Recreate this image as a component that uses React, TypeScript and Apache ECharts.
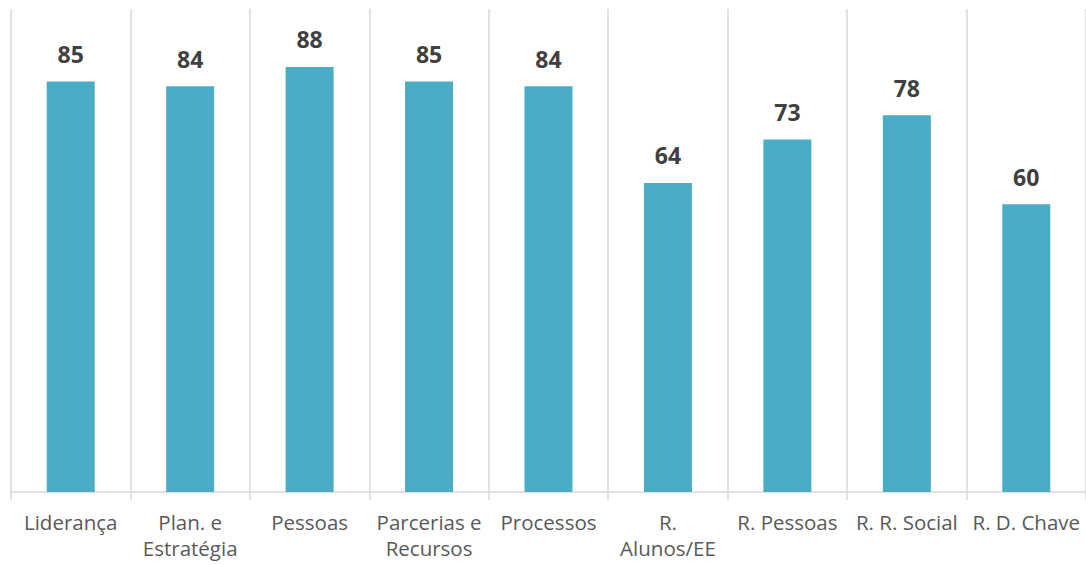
import React, { useEffect, useRef } from "react";
import * as echarts from "echarts";

const categories = [
  "Liderança",
  "Plan. e\nEstratégia",
  "Pessoas",
  "Parcerias e\nRecursos",
  "Processos",
  "R.\nAlunos/EE",
  "R. Pessoas",
  "R. R. Social",
  "R. D. Chave",
];
const values = [85, 84, 88, 85, 84, 64, 73, 78, 59.6];

export default function App() {
  const ref = useRef<HTMLDivElement>(null);
  useEffect(() => {
    if (!ref.current) return;
    const chart = echarts.init(ref.current, null, { renderer: "svg" });
    chart.setOption({
      animation: false,
      backgroundColor: "#ffffff",
      grid: { left: 11, right: 0, top: 9, bottom: 73, containLabel: false },
      xAxis: {
        type: "category",
        data: categories,
        boundaryGap: true,
        axisLine: { show: true, lineStyle: { color: "#d9d9d9", width: 1.5 } },
        axisTick: { show: true, length: 8, lineStyle: { color: "#d9d9d9", width: 1.5 } },
        splitLine: { show: true, lineStyle: { color: "#d9d9d9", width: 1.5 } },
        axisLabel: {
          interval: 0,
          color: "#595959",
          fontFamily: "Open Sans",
          fontSize: 20.5,
          lineHeight: 26,
          margin: 17,
        },
      },
      yAxis: {
        type: "value",
        min: 0,
        max: 100,
        show: false,
        splitLine: { show: false },
      },
      series: [
        {
          type: "bar",
          data: values,
          barWidth: 48,
          itemStyle: { color: "#4bacc6" },
          label: {
            show: true,
            position: "top",
            distance: 16,
            color: "#404040",
            fontFamily: "Open Sans",
            fontWeight: "bold",
            fontSize: 23,
            formatter: (p: any) => Math.round(p.value).toString(),
          },
        },
      ],
    });
    return () => chart.dispose();
  }, []);
  return (
    <div
      ref={ref}
      style={{ position: "fixed", left: 0, top: 0, width: 1086, height: 565 }}
    />
  );
}
